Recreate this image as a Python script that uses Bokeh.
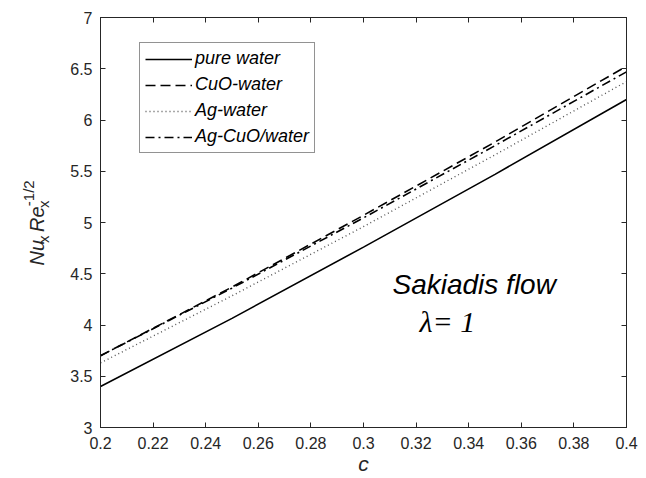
from bokeh.plotting import figure
from bokeh.layouts import row
from bokeh.models import Range1d, LinearAxis, FixedTicker, Label, Legend, LegendItem
from bokeh.embed import file_html
from bokeh.resources import INLINE
import math

# ---- data ----
c = [0.2, 0.25, 0.3, 0.35, 0.4]
pure_water = [3.40, 4.065, 4.76, 5.47, 6.20]
cuo_water = [3.70, 4.37, 5.07, 5.785, 6.525]
ag_water = [3.63, 4.285, 4.96, 5.66, 6.375]
ag_cuo_water = [3.70, 4.36, 5.045, 5.75, 6.47]

series_names = ["pure water", "CuO-water", "Ag-water", "Ag-CuO/water"]

x_ticks = [0.2, 0.22, 0.24, 0.26, 0.28, 0.3, 0.32, 0.34, 0.36, 0.38, 0.4]
x_tick_labels = ["0.2", "0.22", "0.24", "0.26", "0.28", "0.3", "0.32", "0.34", "0.36", "0.38", "0.4"]
y_ticks = [3, 3.5, 4, 4.5, 5, 5.5, 6, 6.5, 7]
y_tick_labels = ["3", "3.5", "4", "4.5", "5", "5.5", "6", "6.5", "7"]

AX = "#262626"
FONT = "Liberation Sans"

W, H = 646, 478
LW = 56  # width of the strip holding the rotated y label
X0, X1, Y0, Y1 = 0.2, 0.4, 3.0, 7.0
FL, FR, FT, FB = 100, 626, 17, 427  # frame edges in page pixels


def px_to_data(px, py):
    return (X0 + (px - FL) / (FR - FL) * (X1 - X0),
            Y1 - (py - FT) / (FB - FT) * (Y1 - Y0))


p = figure(width=W - LW, height=H, x_range=Range1d(X0, X1), y_range=Range1d(Y0, Y1),
           output_backend="svg", toolbar_location=None, title=None,
           min_border_left=FL - LW, min_border_right=W - FR, min_border_top=FT, min_border_bottom=H - FB)
p.xgrid.visible = False
p.ygrid.visible = False
p.outline_line_color = AX
p.outline_line_width = 1
p.background_fill_color = "white"


def style_axis(ax, ticks, labels, show_labels=True):
    ax.ticker = FixedTicker(ticks=ticks)
    if show_labels:
        ax.major_label_overrides = {t: l for t, l in zip(ticks, labels)}
    else:
        ax.major_label_overrides = {t: "" for t in ticks}
    ax.major_tick_in = 5
    ax.major_tick_out = 0
    ax.minor_tick_in = 0
    ax.minor_tick_out = 0
    ax.axis_line_color = AX
    ax.major_tick_line_color = AX
    ax.major_label_text_color = AX
    ax.major_label_text_font = FONT
    ax.major_label_text_font_size = "16px"
    ax.major_label_standoff = 7 if show_labels else 0


style_axis(p.xaxis[0], x_ticks, x_tick_labels)
style_axis(p.yaxis[0], y_ticks, y_tick_labels)
p.yaxis[0].major_label_standoff = 8
p.xaxis[0].major_label_standoff = 9
p.xaxis[0].axis_label = "c"
p.xaxis[0].axis_label_text_font = FONT
p.xaxis[0].axis_label_text_font_style = "italic"
p.xaxis[0].axis_label_text_font_size = "21px"
p.xaxis[0].axis_label_text_color = AX
p.xaxis[0].axis_label_standoff = 0

top = LinearAxis()
style_axis(top, x_ticks, x_tick_labels, show_labels=False)
p.add_layout(top, "above")
right = LinearAxis()
style_axis(right, y_ticks, y_tick_labels, show_labels=False)
p.add_layout(right, "right")

r1 = p.line(c, pure_water, line_color="black", line_width=1.6)
r2 = p.line(c, cuo_water, line_color="black", line_width=1.6, line_dash="10 5")
r3 = p.line(c, ag_water, line_color="#555555", line_width=1.4, line_dash="1 3")
r4 = p.line(c, ag_cuo_water, line_color="black", line_width=1.6, line_dash="9 4 2 4")

legend = Legend(items=[LegendItem(label=n, renderers=[r]) for n, r in zip(series_names, [r1, r2, r3, r4])],
                location=(39, 274))
legend.border_line_color = AX
legend.border_line_width = 1
legend.background_fill_color = "white"
legend.background_fill_alpha = 1
legend.label_text_font = FONT
legend.label_text_font_style = "italic"
legend.label_text_font_size = "18px"
legend.label_text_color = "black"
legend.glyph_width = 47
legend.glyph_height = 20
legend.label_height = 20
legend.spacing = 5
legend.padding = 5
legend.margin = 0
legend.label_standoff = 3
p.add_layout(legend)

# annotations
sx, sy = px_to_data(392, 284)
p.add_layout(Label(x=sx, y=sy, text="Sakiadis flow", text_font=FONT, text_font_style="italic",
                   text_font_size="28px", text_color="black", text_baseline="alphabetic"))
lx, ly = px_to_data(419, 321)
p.add_layout(Label(x=lx, y=ly, text="λ= 1", text_font="Liberation Serif", text_font_style="italic",
                   text_font_size="30px", text_color="black", text_baseline="alphabetic"))

# y axis label strip (rotated text)
q = figure(width=LW, height=H, x_range=Range1d(0, LW), y_range=Range1d(0, H),
           output_backend="svg", toolbar_location=None, x_axis_type=None, y_axis_type=None,
           title=None, min_border_left=0, min_border_right=0, min_border_top=0, min_border_bottom=0)
q.xgrid.visible = False
q.ygrid.visible = False
q.outline_line_color = None
q.background_fill_color = "white"

ang = math.pi / 2
ylab_parts = [
    ("Nu", 36, 289, "20px", "italic"),
    ("x", 43, 263, "15px", "normal"),
    ("Re", 36, 250, "20px", "italic"),
    ("x", 43, 222, "15px", "normal"),
    ("-1/2", 28, 220, "15px", "normal"),
]
for t, px, py, fs, st in ylab_parts:
    q.add_layout(Label(x=px, y=H - py, text=t, angle=ang,
                       text_font=FONT, text_font_style=st, text_font_size=fs, text_color=AX,
                       text_baseline="alphabetic", text_align="left"))

layout = row(q, p, spacing=0)
open("out.html", "w").write(file_html(layout, INLINE))
